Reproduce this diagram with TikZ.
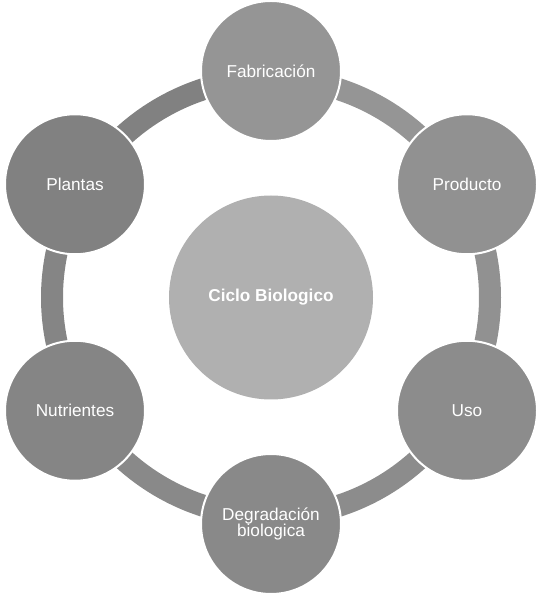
\documentclass[tikz,border=0pt]{standalone}
\usepackage{fontspec}
\setmainfont{Liberation Sans}
\definecolor{cfab}{HTML}{959595}
\definecolor{cpro}{HTML}{919191}
\definecolor{cuso}{HTML}{8C8C8C}
\definecolor{cdeg}{HTML}{898989}
\definecolor{cnut}{HTML}{858585}
\definecolor{cpla}{HTML}{818181}
\definecolor{ccen}{HTML}{B0B0B0}
\begin{document}
\begin{tikzpicture}[x=0.75pt,y=0.75pt,
  paso/.style={circle,draw=white,line width=1.5pt,minimum size=105pt,inner sep=0pt,
    text=white,align=center,font=\fontsize{12.9}{12.5}\selectfont},
  centro/.style={circle,fill=ccen,minimum size=153pt,inner sep=0pt,
    text=white,font=\bfseries\fontsize{12.9}{15}\selectfont}]
\useasboundingbox (0,0) rectangle (539,596);
\coordinate (c) at (271,298.5);
% anillo
\foreach \a/\col in {90/cfab,30/cpro,-30/cuso,-90/cdeg,-150/cnut,150/cpla}
  \draw[color=\col,line width=16.5pt] (c) ++(\a:219) arc[start angle=\a,delta angle=-60,radius=219];
% pasos
\node[paso,fill=cfab] (fab) at (271,525) {Fabricación};
\node[paso,fill=cpro] (pro) at (467,411.75) {Producto};
\node[paso,fill=cuso] (uso) at (467,185.25) {Uso};
\node[paso,fill=cdeg] (deg) at (271,72) {Degradación\\biologica};
\node[paso,fill=cnut] (nut) at (75,185.25) {Nutrientes};
\node[paso,fill=cpla] (pla) at (75,411.75) {Plantas};
\node[centro] (ciclo) at (c) {Ciclo Biologico};
\end{tikzpicture}
\end{document}
